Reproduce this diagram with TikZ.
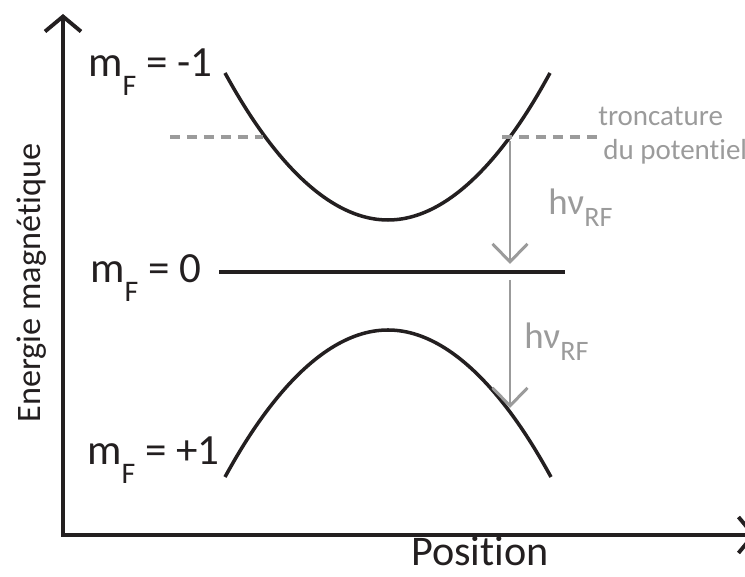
\documentclass[tikz,border=0pt]{standalone}
\usepackage{fontspec}
\setmainfont{Carlito}[Ligatures=NoCommon]
\usetikzlibrary{arrows.meta}
\definecolor{inkdark}{HTML}{231F20}
\definecolor{inkgrey}{HTML}{9B9B9B}
\newcommand{\mflabel}[3]{%
  \node[anchor=base west, inner sep=0pt, text=inkdark,
        font=\fontsize{24.5}{28}\selectfont] (#1) at (#2)
        {m\raisebox{-0.42em}{\fontsize{17}{17}\selectfont F} = #3};}
\newcommand{\hnurf}{hν\raisebox{-0.3em}{\fontsize{16}{16}\selectfont RF}}
\begin{document}
\begin{tikzpicture}[x=0.02cm, y=-0.02cm,
    axisline/.style={draw=inkdark, line width=2.2pt, line join=miter,
      {Straight Barb[length=3mm, width=7.2mm]}-{Straight Barb[length=3mm, width=7.2mm]}},
    curveline/.style={draw=inkdark, line width=2pt},
    cutline/.style={draw=inkgrey, line width=1.9pt, dash pattern=on 0.2cm off 0.14cm},
    transline/.style={draw=inkgrey, line width=1.7pt,
      -{Straight Barb[length=3.6mm, width=7mm]}},
    greytext/.style={text=inkgrey, inner sep=0pt, anchor=base west}]
  \useasboundingbox (0,0) rectangle (745,577);
  % axes
  \coordinate (ytop) at (63,14);
  \coordinate (origin) at (63,535);
  \coordinate (xend) at (756,535);
  \draw[axisline] (ytop) -- (origin) -- (xend);
  \node[rotate=90, anchor=base, inner sep=0pt, text=inkdark,
        font=\fontsize{19.5}{24}\selectfont] (ylabel) at (40,283) {Energie magnétique};
  \node[anchor=base, inner sep=0pt, text=inkdark,
        font=\fontsize{24}{28}\selectfont] (xlabel) at (480,566) {Position};
  % niveaux
  \draw[curveline] (225,73) parabola bend (388,220) (550,73);
  \draw[curveline] (225,477) parabola bend (388,330) (551,477);
  \coordinate (zeroL) at (219,272);
  \coordinate (zeroR) at (565,272);
  \draw[curveline] (zeroL) -- (zeroR);
  \mflabel{mfminus}{88,77}{-1}
  \mflabel{mfzero}{90,283}{0}
  \mflabel{mfplus}{87,465}{+1}
  % troncature
  \coordinate (cutA) at (170,137);
  \coordinate (cutB) at (263,137);
  \coordinate (cutC) at (502,137);
  \coordinate (cutD) at (597,137);
  \draw[cutline] (cutA) -- (cutB);
  \draw[cutline] (cutC) -- (cutD);
  \node[greytext, font=\fontsize{16.5}{20}\selectfont] (trunc) at (598,126) {troncature};
  \node[greytext, font=\fontsize{16.5}{20}\selectfont] (pot) at (603,160) {du potentiel};
  % transitions RF
  \coordinate (rfA) at (510,141);
  \coordinate (rfB) at (510,264);
  \coordinate (rfC) at (510,280);
  \coordinate (rfD) at (510,408);
  \draw[transline] (rfA) -- (rfB);
  \draw[transline] (rfC) -- (rfD);
  \node[greytext, font=\fontsize{21}{25}\selectfont] (rfup) at (548,215) {\hnurf};
  \node[greytext, font=\fontsize{21}{25}\selectfont] (rfdown) at (524,349) {\hnurf};
\end{tikzpicture}
\end{document}
